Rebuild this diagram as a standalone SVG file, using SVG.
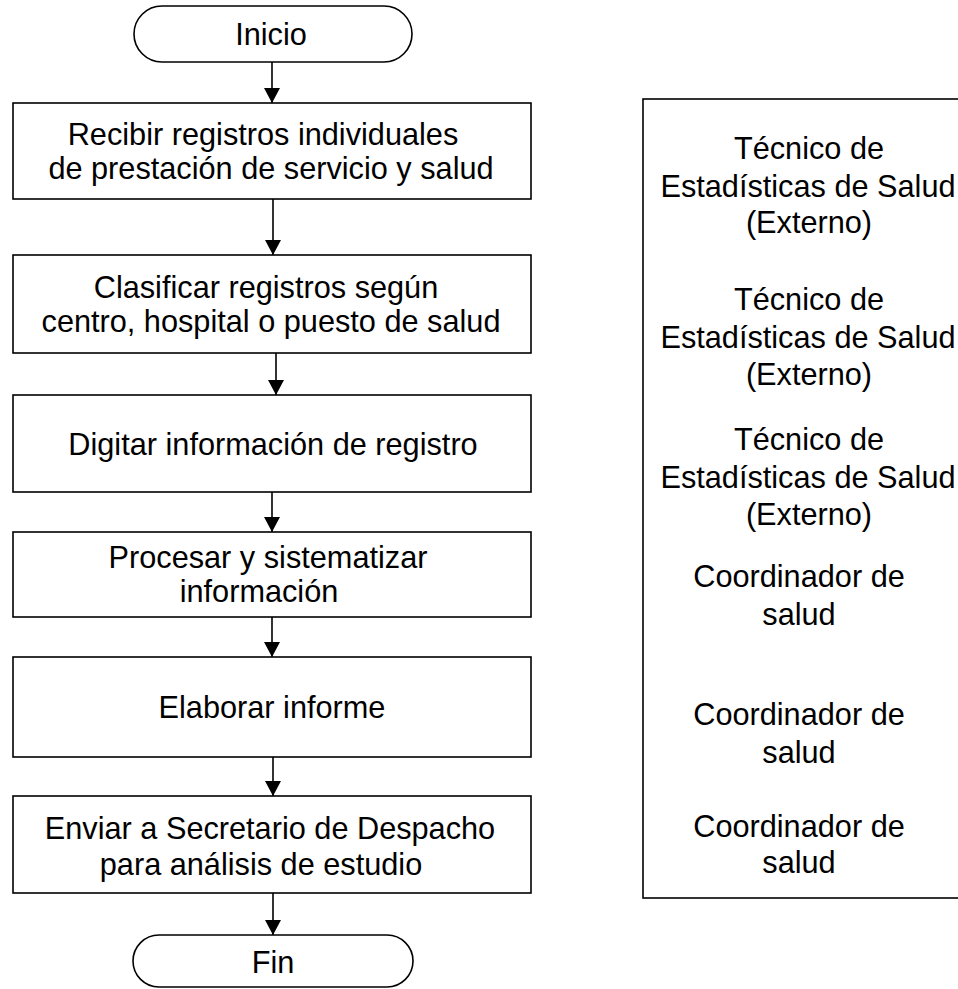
<svg xmlns="http://www.w3.org/2000/svg" width="958" height="989" viewBox="0 0 958 989">
<style>
  .shape { fill: #ffffff; stroke: #000000; stroke-width: 1.6; }
  .t { font-family: "Liberation Sans", Arial, sans-serif; font-size: 30.7px; fill: #000000; text-anchor: middle; }
  .conn { stroke: #000000; stroke-width: 1.6; fill: none; marker-end: url(#arrow); }
</style>
<defs>
  <marker id="arrow" viewBox="0 0 15 16" refX="15" refY="8" markerWidth="15" markerHeight="16" markerUnits="userSpaceOnUse" orient="auto">
    <path d="M0,0 L15,8 L0,16 Z" fill="#000000"/>
  </marker>
</defs>
<rect width="958" height="989" fill="#ffffff"/>

<g id="connectors">
  <line class="conn" x1="272" y1="62" x2="272" y2="103"/>
  <line class="conn" x1="273" y1="199" x2="273" y2="255"/>
  <line class="conn" x1="276" y1="353" x2="276" y2="395"/>
  <line class="conn" x1="272" y1="492" x2="272" y2="532"/>
  <line class="conn" x1="272" y1="617" x2="272" y2="657"/>
  <line class="conn" x1="273" y1="757" x2="273" y2="796"/>
  <line class="conn" x1="273" y1="893" x2="273" y2="935"/>
</g>

<g id="inicio">
  <rect class="shape" x="134" y="6" width="278" height="56" rx="28" ry="28"/>
  <text class="t" x="271" y="45">Inicio</text>
</g>

<g id="recibir">
  <rect class="shape" x="13" y="103" width="518" height="96"/>
  <text class="t" x="263" y="145">Recibir registros individuales</text>
  <text class="t" x="271" y="179">de prestación de servicio y salud</text>
</g>

<g id="clasificar">
  <rect class="shape" x="13" y="255" width="518" height="98"/>
  <text class="t" x="266" y="298">Clasificar registros según</text>
  <text class="t" x="271" y="332">centro, hospital o puesto de salud</text>
</g>

<g id="digitar">
  <rect class="shape" x="13" y="395" width="518" height="97"/>
  <text class="t" x="273" y="455">Digitar información de registro</text>
</g>

<g id="procesar">
  <rect class="shape" x="13" y="532" width="518" height="85"/>
  <text class="t" x="268" y="568">Procesar y sistematizar</text>
  <text class="t" x="259" y="602">información</text>
</g>

<g id="elaborar">
  <rect class="shape" x="13" y="657" width="518" height="100"/>
  <text class="t" x="272" y="718">Elaborar informe</text>
</g>

<g id="enviar">
  <rect class="shape" x="13" y="796" width="518" height="97"/>
  <text class="t" x="270" y="839">Enviar a Secretario de Despacho</text>
  <text class="t" x="261" y="875">para análisis de estudio</text>
</g>

<g id="fin">
  <rect class="shape" x="133" y="935" width="280" height="52" rx="26" ry="26"/>
  <text class="t" x="273" y="973">Fin</text>
</g>

<g id="responsables">
  <rect class="shape" x="643" y="99" width="330" height="799"/>
  <text class="t" x="809" y="159">Técnico de</text>
  <text class="t" x="808" y="197">Estadísticas de Salud</text>
  <text class="t" x="809" y="233">(Externo)</text>
  <text class="t" x="809" y="310">Técnico de</text>
  <text class="t" x="808" y="348">Estadísticas de Salud</text>
  <text class="t" x="809" y="385">(Externo)</text>
  <text class="t" x="809" y="450">Técnico de</text>
  <text class="t" x="808" y="488">Estadísticas de Salud</text>
  <text class="t" x="809" y="525">(Externo)</text>
  <text class="t" x="799" y="587">Coordinador de</text>
  <text class="t" x="799" y="625">salud</text>
  <text class="t" x="799" y="725">Coordinador de</text>
  <text class="t" x="799" y="763">salud</text>
  <text class="t" x="799" y="837">Coordinador de</text>
  <text class="t" x="799" y="873">salud</text>
</g>
</svg>
